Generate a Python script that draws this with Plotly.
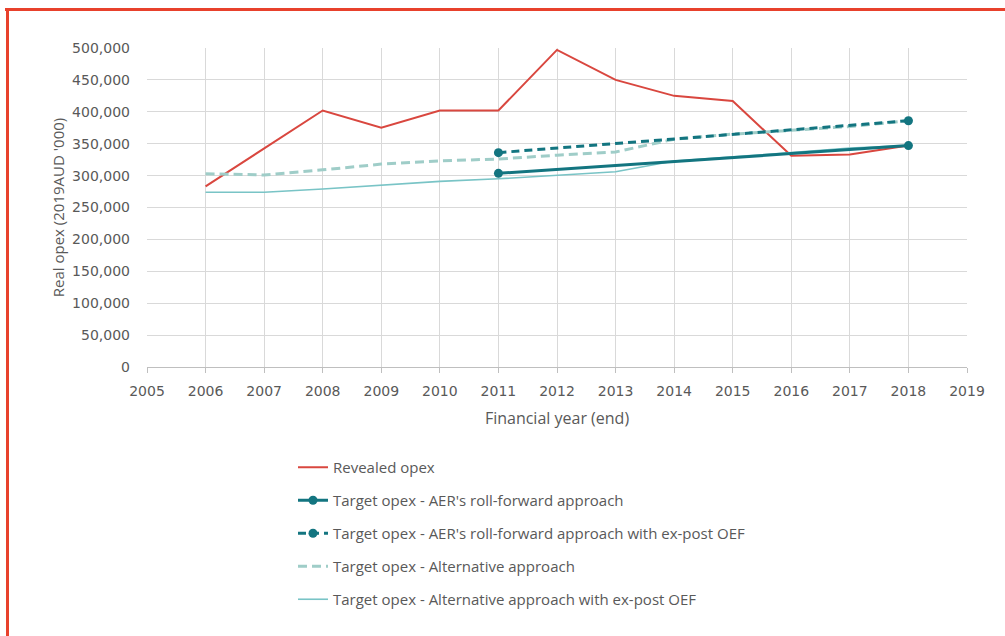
import plotly.graph_objects as go

years = [2006, 2007, 2008, 2009, 2010, 2011, 2012, 2013, 2014, 2015, 2016, 2017, 2018]
revealed = [283000, 343000, 402000, 375000, 402000, 402000, 497000, 450000, 425000, 417000, 331000, 333000, 347000]

aer_years = [2011, 2018]
aer_rollforward = [303500, 347000]
aer_rollforward_oef = [336000, 386000]

alternative = [303000, 301000, 309000, 318000, 323000, 326000, 332000, 337000, 357000, 365000, 371000, 377000, 386000]
alternative_oef = [274000, 274000, 279000, 285000, 291000, 295000, 301000, 306000, 323000, 329000, 336000, 343000, 347000]

x_ticks = list(range(2005, 2020))

W, H = 1005, 636
L, R, T, B = 147, 38, 48, 269
pw, ph = W - L - R, H - T - B

def px_x(p):
    return (p - L) / pw

def px_y(p):
    return (H - B - p) / ph

grey = "#595959"
c_red = "#d9473f"
c_dark = "#137580"
c_altd = "#9fcdc8"
c_alts = "#79c4c6"

fig = go.Figure()

# data traces (drawn back to front)
fig.add_trace(go.Scatter(x=years, y=revealed, mode="lines", name="Revealed opex",
                         line=dict(color=c_red, width=2), legendgroup="a"))
fig.add_trace(go.Scatter(x=years, y=alternative_oef, mode="lines",
                         name="Target opex - Alternative approach with ex-post OEF",
                         line=dict(color=c_alts, width=1.6), showlegend=False))
fig.add_trace(go.Scatter(x=years, y=alternative, mode="lines",
                         name="Target opex - Alternative approach",
                         line=dict(color=c_altd, width=3, dash="9px,5px"), showlegend=False))
fig.add_trace(go.Scatter(x=aer_years, y=aer_rollforward, mode="lines+markers",
                         name="Target opex - AER's roll-forward approach",
                         line=dict(color=c_dark, width=3), marker=dict(size=9, color=c_dark),
                         legendgroup="b"))
fig.add_trace(go.Scatter(x=aer_years, y=aer_rollforward_oef, mode="lines+markers",
                         name="Target opex - AER's roll-forward approach with ex-post OEF",
                         line=dict(color=c_dark, width=3, dash="8px,5px"), marker=dict(size=9, color=c_dark),
                         legendgroup="c"))
# legend entries in the reference order
fig.add_trace(go.Scatter(x=[None], y=[None], mode="lines",
                         name="Target opex - Alternative approach",
                         line=dict(color=c_altd, width=3, dash="9px,5px"), legendgroup="d"))
fig.add_trace(go.Scatter(x=[None], y=[None], mode="lines",
                         name="Target opex - Alternative approach with ex-post OEF",
                         line=dict(color=c_alts, width=1.6), legendgroup="e"))

fig.update_layout(
    width=W, height=H,
    margin=dict(l=L, r=R, t=T, b=B),
    paper_bgcolor="white", plot_bgcolor="white",
    font=dict(family="Open Sans", color=grey, size=13),
    showlegend=True,
    legend=dict(x=px_x(293), y=px_y(451), xanchor="left", yanchor="top",
                traceorder="grouped", tracegroupgap=10.5,
                font=dict(family="Open Sans", size=15, color=grey),
                bgcolor="rgba(0,0,0,0)"),
    shapes=[
        dict(type="line", xref="paper", yref="paper", x0=px_x(5), x1=px_x(1005),
             y0=px_y(9.5), y1=px_y(9.5), line=dict(color="#e8412c", width=3)),
        dict(type="line", xref="paper", yref="paper", x0=px_x(7.5), x1=px_x(7.5),
             y0=px_y(8), y1=px_y(636), line=dict(color="#e8412c", width=3)),
    ],
)

fig.update_xaxes(range=[2005, 2019], tickvals=x_ticks, ticktext=[str(v) for v in x_ticks],
                 showgrid=True, gridcolor="#d9d9d9", gridwidth=1,
                 showline=True, linecolor="#bfbfbf", linewidth=1, mirror=False,
                 ticks="outside", ticklen=5, tickcolor="#bfbfbf", ticklabelstandoff=6,
                 tickfont=dict(family="DejaVu Sans", size=14, color=grey),
                 title=dict(text="Financial year (end)", font=dict(family="Open Sans", size=16, color=grey),
                            standoff=15),
                 zeroline=False)
fig.update_yaxes(range=[0, 500000], dtick=50000, tickformat=",",
                 showgrid=True, gridcolor="#d9d9d9", gridwidth=1,
                 showline=False, zeroline=False,
                 ticks="", ticklabelstandoff=16,
                 tickfont=dict(family="DejaVu Sans", size=14, color=grey),
                 title=dict(text="Real opex (2019AUD '000)", font=dict(family="Open Sans", size=15, color=grey),
                            standoff=3))

fig.write_html("out.html")
